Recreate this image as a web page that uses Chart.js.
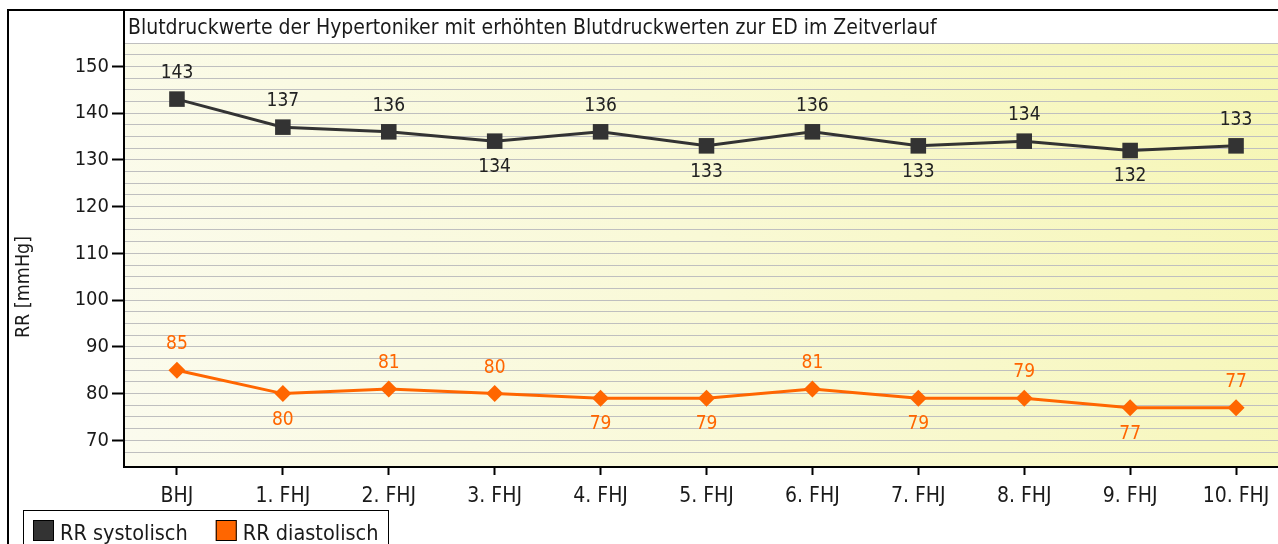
<!DOCTYPE html>
<html><head><meta charset="utf-8">
<script src="https://cdn.jsdelivr.net/npm/chart.js@4.4.1/dist/chart.umd.min.js"></script>
<style>
html,body{margin:0;padding:0;overflow:hidden;background:#fff;width:1278px;height:544px}
#wrap{position:absolute;left:0;top:0;width:1300px;height:544px}
</style>
</head><body><div id="wrap"><canvas id="c" width="1300" height="544"></canvas></div>
<script>
// ---- data ----
const categories = ['BHJ','1. FHJ','2. FHJ','3. FHJ','4. FHJ','5. FHJ','6. FHJ','7. FHJ','8. FHJ','9. FHJ','10. FHJ'];
const systolic  = [143,137,136,134,136,133,136,133,134,132,133];
const diastolic = [85,80,81,80,79,79,81,79,79,77,77];
const yTickLabels = [70,80,90,100,110,120,130,140,150];
const seriesNames = ['RR systolisch','RR diastolisch'];
const chartTitle = 'Blutdruckwerte der Hypertoniker mit erhöhten Blutdruckwerten zur ED im Zeitverlauf';
const yAxisTitle = 'RR [mmHg]';

// label placement (a = above, b = below)
const systolicLabelSide  = ['a','a','a','b','a','b','a','b','a','b','a'];
const diastolicLabelSide = ['a','b','a','a','b','b','a','b','a','b','a'];

const FONT = '"DejaVu Sans Condensed", "DejaVu Sans", sans-serif';
const SYS_COLOR = '#333333';
const DIA_COLOR = '#ff6600';
const TEXT = '#1a1a1a';

const decor = {
  id: 'decor',
  beforeDraw(chart) {
    const {ctx, chartArea: a} = chart;
    ctx.save();
    ctx.fillStyle = '#fff';
    ctx.fillRect(0, 0, chart.width, chart.height);
    const g = ctx.createLinearGradient(a.left, a.bottom, a.right, a.top);
    g.addColorStop(0, '#fbfbee');
    g.addColorStop(0.5, '#f9f9d6');
    g.addColorStop(1, '#f6f6b4');
    ctx.fillStyle = g;
    ctx.fillRect(a.left, a.top, a.right - a.left, a.bottom - a.top);
    ctx.restore();
  },
  afterDatasetsDraw(chart) {
    const {ctx} = chart;
    ctx.save();
    ctx.font = '19px ' + FONT;
    ctx.textAlign = 'center';
    ctx.textBaseline = 'middle';
    chart.data.datasets.forEach((ds, i) => {
      const meta = chart.getDatasetMeta(i);
      ctx.fillStyle = ds.labelColor;
      meta.data.forEach((pt, j) => {
        const dy = ds.labelSide[j] === 'a' ? -26 : 26;
        ctx.fillText(String(ds.data[j]), pt.x, pt.y + dy);
      });
    });
    ctx.restore();
  },
  afterDraw(chart) {
    const {ctx, chartArea: a} = chart;
    ctx.save();
    // outer frame
    ctx.fillStyle = '#000';
    ctx.fillRect(7, 9, chart.width, 2);
    ctx.fillRect(7, 9, 2, chart.height);
    // axis extension into title strip
    ctx.fillRect(a.left - 1, 10, 2, a.top - 10);
    // title
    ctx.fillStyle = TEXT;
    ctx.font = '21px ' + FONT;
    ctx.textAlign = 'left';
    ctx.textBaseline = 'alphabetic';
    ctx.fillText(chartTitle, 128, 34);
    // y axis title
    ctx.save();
    ctx.font = '19.5px ' + FONT;
    ctx.translate(29, 287);
    ctx.rotate(-Math.PI / 2);
    ctx.textAlign = 'center';
    ctx.fillText(yAxisTitle, 0, 0);
    ctx.restore();
    // legend
    ctx.lineWidth = 1;
    ctx.strokeStyle = '#000';
    ctx.strokeRect(23.5, 510.5, 365, 50);
    ctx.font = '21.5px ' + FONT;
    ctx.textBaseline = 'alphabetic';
    let x = 33;
    chart.data.datasets.forEach((ds) => {
      ctx.fillStyle = ds.legendColor;
      ctx.fillRect(x, 520, 21, 21);
      ctx.strokeStyle = '#000';
      ctx.strokeRect(x + 0.5, 520.5, 20, 20);
      ctx.fillStyle = TEXT;
      ctx.fillText(ds.label, x + 27, 540);
      x += 27 + ctx.measureText(ds.label).width + 28;
    });
    ctx.restore();
  }
};

new Chart(document.getElementById('c'), {
  type: 'line',
  data: {
    labels: categories,
    datasets: [
      {
        label: seriesNames[0], data: systolic,
        borderColor: SYS_COLOR, backgroundColor: SYS_COLOR, borderWidth: 3,
        pointStyle: 'rect', pointRadius: 11, pointBorderWidth: 0,
        labelSide: systolicLabelSide, labelColor: '#222', legendColor: SYS_COLOR
      },
      {
        label: seriesNames[1], data: diastolic,
        borderColor: DIA_COLOR, backgroundColor: DIA_COLOR, borderWidth: 3,
        pointStyle: 'rectRot', pointRadius: 8.5, pointBorderWidth: 0,
        labelSide: diastolicLabelSide, labelColor: DIA_COLOR, legendColor: DIA_COLOR
      }
    ]
  },
  options: {
    responsive: false,
    animation: false,
    layout: { padding: { top: 43, right: 9, left: 0, bottom: 0 } },
    plugins: { legend: { display: false }, title: { display: false }, tooltip: { enabled: false } },
    elements: { line: { tension: 0 } },
    scales: {
      x: {
        offset: true,
        grid: { drawOnChartArea: false, drawTicks: true, tickLength: 8, tickColor: '#000', tickWidth: 2, offset: false },
        border: { color: '#000', width: 2 },
        ticks: { color: TEXT, font: { family: FONT, size: 21 }, padding: 9, maxRotation: 0, autoSkip: false },
        afterFit(s) { s.height = 77; }
      },
      y: {
        min: 64.3, max: 155,
        grid: {
          color: '#bfbfbf', lineWidth: 1, tickLength: 12,
          tickColor: (c) => (c.tick && yTickLabels.includes(c.tick.value)) ? '#000' : 'rgba(0,0,0,0)',
          tickWidth: 2
        },
        border: { color: '#000', width: 2 },
        ticks: {
          stepSize: 2.5, autoSkip: false, color: TEXT, font: { family: FONT, size: 20 }, padding: 3,
          callback: (v) => yTickLabels.includes(v) ? String(v) : ''
        },
        afterFit(s) { s.width = 124; }
      }
    }
  },
  plugins: [decor]
});
</script>
</body></html>
